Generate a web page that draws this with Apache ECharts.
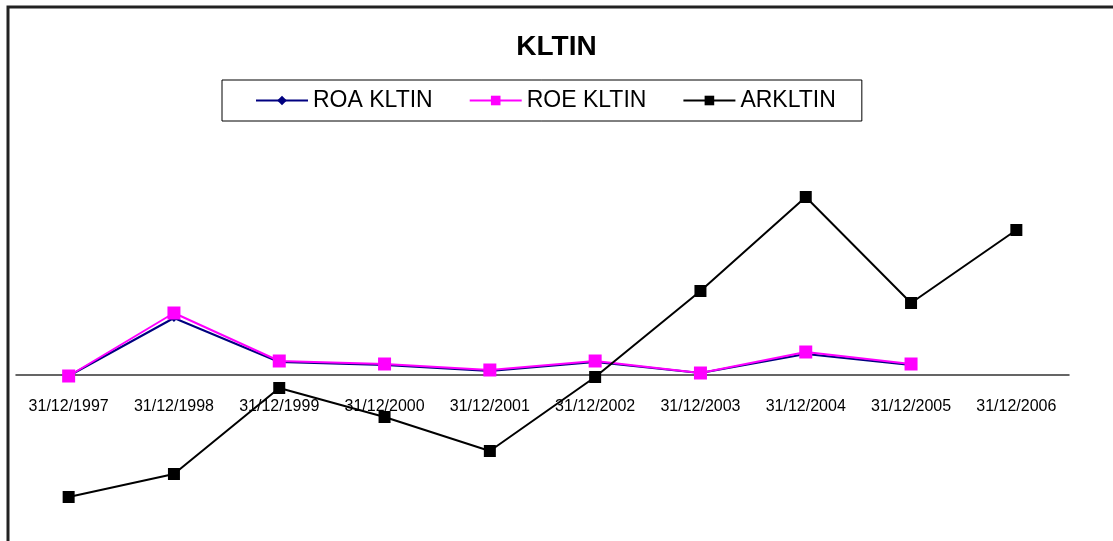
<!DOCTYPE html>
<html>
<head>
<meta charset="utf-8">
<title>KLTIN</title>
<script src="https://cdn.jsdelivr.net/npm/echarts@6/dist/echarts.min.js"></script>
<style>
  html, body { margin: 0; padding: 0; background: #fff; }
  #chart { width: 1113px; height: 541px; }
</style>
</head>
<body>
<div id="chart"></div>
<script>
// Year-end dates on the category axis
const categories = ['31/12/1997', '31/12/1998', '31/12/1999', '31/12/2000', '31/12/2001',
                    '31/12/2002', '31/12/2003', '31/12/2004', '31/12/2005', '31/12/2006'];

// Ratios per year (no ROA / ROE figure for 2006)
const roaKltin = [-0.001, 0.057, 0.013, 0.010, 0.004, 0.013, 0.002, 0.021, 0.010, null];
const roeKltin = [-0.001, 0.062, 0.014, 0.011, 0.005, 0.014, 0.002, 0.023, 0.011, null];
const arKltin  = [-0.122, -0.099, -0.013, -0.042, -0.076, -0.002, 0.084, 0.178, 0.072, 0.145];

const FONT = '"Liberation Sans", Arial, sans-serif';

// Value range of the hidden vertical scale; the category axis sits on zero
const Y_MIN = -0.15;
const Y_MAX = 0.25;
const GRID_TOP = 125;
const GRID_HEIGHT = 400;
const zeroShift = GRID_HEIGHT * (0 - Y_MIN) / (Y_MAX - Y_MIN);

const chart = echarts.init(document.getElementById('chart'));

chart.setOption({
  animation: false,
  backgroundColor: '#fff',
  title: {
    text: 'KLTIN',
    left: 'center',
    top: 28,
    textStyle: { fontFamily: FONT, fontSize: 28, fontWeight: 'bold', color: '#000' }
  },
  legend: {
    left: 222,
    top: 80,
    padding: [9, 26, 9, 33],
    itemGap: 36,
    itemWidth: 52,
    itemHeight: 12,
    borderColor: '#000',
    borderWidth: 1,
    borderRadius: 0,
    textStyle: { fontFamily: FONT, fontSize: 23, color: '#000' }
  },
  graphic: [{
    type: 'rect',
    silent: true,
    shape: { x: 8, y: 7, width: 1300, height: 700 },
    style: { fill: null, stroke: '#222', lineWidth: 3 },
    z: 100
  }],
  grid: { left: 16, right: 44, top: GRID_TOP, height: GRID_HEIGHT, outerBoundsMode: 'none', containLabel: false },
  xAxis: {
    type: 'category',
    data: categories,
    boundaryGap: true,
    position: 'bottom',
    offset: -zeroShift,
    axisLine: { onZero: false, lineStyle: { color: '#333', width: 1.5 } },
    axisTick: { show: false },
    axisLabel: {
      interval: 0,
      margin: 24,
      fontFamily: FONT,
      fontSize: 16,
      color: '#000'
    },
    splitLine: { show: false }
  },
  yAxis: {
    type: 'value',
    min: Y_MIN,
    max: Y_MAX,
    show: false,
    splitLine: { show: false }
  },
  series: [
    {
      name: 'ROA KLTIN',
      type: 'line',
      data: roaKltin,
      symbol: 'diamond',
      symbolSize: 8,
      showAllSymbol: true,
      color: '#000080',
      lineStyle: { color: '#000080', width: 2 },
      itemStyle: { color: '#000080' }
    },
    {
      name: 'ROE KLTIN',
      type: 'line',
      data: roeKltin,
      symbol: 'rect',
      symbolSize: 13,
      showAllSymbol: true,
      color: '#ff00ff',
      lineStyle: { color: '#ff00ff', width: 2 },
      itemStyle: { color: '#ff00ff' }
    },
    {
      name: 'ARKLTIN',
      type: 'line',
      data: arKltin,
      symbol: 'rect',
      symbolSize: 12,
      showAllSymbol: true,
      color: '#000',
      lineStyle: { color: '#000', width: 2 },
      itemStyle: { color: '#000' }
    }
  ]
});
</script>
</body>
</html>
